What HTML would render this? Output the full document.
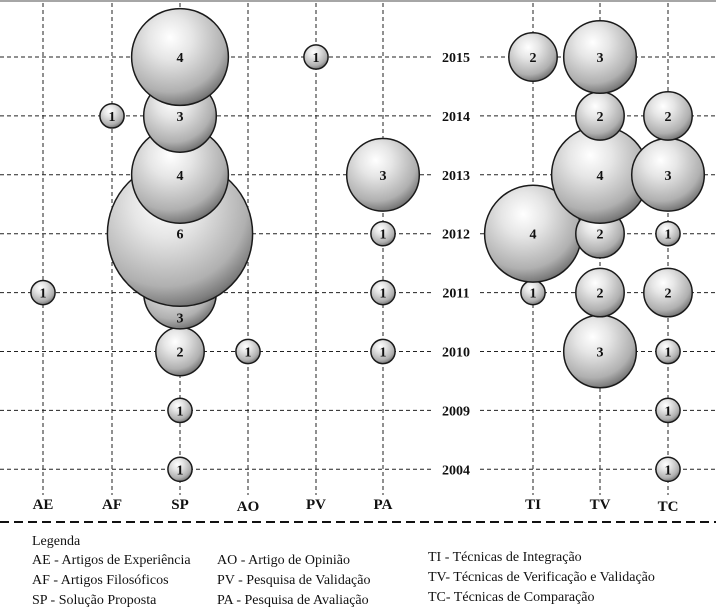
<!DOCTYPE html>
<html><head><meta charset="utf-8">
<style>
html,body{margin:0;padding:0;background:#fff;}
svg{display:block;}
.lg{font-family:"Liberation Serif",serif;font-size:14px;fill:#111;}
</style></head>
<body>
<svg id="chart" width="716" height="607" viewBox="0 0 716 607" xmlns="http://www.w3.org/2000/svg">
<defs>
<radialGradient id="ball" cx="0.4" cy="0.3" r="0.75">
<stop offset="0" stop-color="#ffffff"/>
<stop offset="0.3" stop-color="#e6e6e6"/>
<stop offset="0.75" stop-color="#b0b0b0"/>
<stop offset="0.92" stop-color="#7e7e7e"/>
<stop offset="1" stop-color="#5a5a5a"/>
</radialGradient>
</defs>
<line x1="0" y1="1" x2="716" y2="1" stroke="#888" stroke-width="1.5"/>
<g id="grid"></g>
<g id="bubbles"></g>
<line x1="0" y1="522" x2="716" y2="522" stroke="#111" stroke-width="2" stroke-dasharray="9,5"/>
<g>
<text class="lg" x="32" y="545">Legenda</text>
<text class="lg" x="32" y="564">AE - Artigos de Experiência</text>
<text class="lg" x="32" y="584">AF - Artigos Filosóficos</text>
<text class="lg" x="32" y="604">SP - Solução Proposta</text>
<text class="lg" x="217" y="564">AO - Artigo de Opinião</text>
<text class="lg" x="217" y="584">PV - Pesquisa de Validação</text>
<text class="lg" x="217" y="604">PA - Pesquisa de Avaliação</text>
<text class="lg" x="428" y="561">TI - Técnicas de Integração</text>
<text class="lg" x="428" y="581">TV- Técnicas de Verificação e Validação</text>
<text class="lg" x="428" y="601">TC- Técnicas de Comparação</text>
</g>
</svg>
<script>
const categories = ["AE","AF","SP","AO","PV","PA","TI","TV","TC"];
const years = ["2015","2014","2013","2012","2011","2010","2009","2004"];
const pointCats = ["AE","AF","SP","SP","SP","SP","SP","SP","SP","SP","AO","PV","PA","PA","PA","PA","TI","TI","TI","TV","TV","TV","TV","TV","TV","TC","TC","TC","TC","TC","TC","TC"];
const pointYears = ["2011","2014","2004","2009","2010","2011","2012","2013","2014","2015","2010","2015","2010","2011","2012","2013","2011","2012","2015","2010","2011","2012","2013","2014","2015","2004","2009","2010","2011","2012","2013","2014"];
const pointValues = [1,1,1,1,2,3,6,4,3,4,1,1,1,1,1,3,1,4,2,3,2,2,4,2,3,1,1,1,2,1,3,2];

const NS="http://www.w3.org/2000/svg";
const colX = {AE:43,AF:112,SP:180,AO:248,PV:316,PA:383,TI:533,TV:600,TC:668};
function xScale(c){return colX[c];}
function yScale(y){return 57 + years.indexOf(y)*58.9;}
function rScale(v){return v*12.1;}
const yearLabelX = 456;

const grid=document.getElementById('grid');
categories.forEach(c=>{
  const l=document.createElementNS(NS,'line');
  l.setAttribute('x1',xScale(c));l.setAttribute('x2',xScale(c));
  l.setAttribute('y1',3);l.setAttribute('y2',495);
  l.setAttribute('stroke','#222');l.setAttribute('stroke-width','1');l.setAttribute('stroke-dasharray','4,3');
  
  
  grid.appendChild(l);
  const t=document.createElementNS(NS,'text');
  t.setAttribute('x',xScale(c));t.setAttribute('y',c==='AO'||c==='TC'?511:509);
  t.setAttribute('text-anchor','middle');
  t.setAttribute('style','font-family:"Liberation Serif",serif;font-weight:bold;font-size:15px;fill:#111');
  t.textContent=c;
  
  
  grid.appendChild(t);
});
years.forEach(y=>{
  const yy=yScale(y);
  [[0,yearLabelX-24],[yearLabelX+24,716]].forEach(s=>{
    const l=document.createElementNS(NS,'line');
    l.setAttribute('x1',s[0]);l.setAttribute('x2',s[1]);
    l.setAttribute('y1',yy);l.setAttribute('y2',yy);
    l.setAttribute('stroke','#222');l.setAttribute('stroke-width','1');l.setAttribute('stroke-dasharray','4,3');
    
    
    grid.appendChild(l);
  });
  const t=document.createElementNS(NS,'text');
  t.setAttribute('x',yearLabelX);t.setAttribute('y',yy+5);
  t.setAttribute('text-anchor','middle');
  t.setAttribute('style','font-family:"Liberation Serif",serif;font-weight:bold;font-size:14px;fill:#111');
  t.textContent=y;
  
  
  grid.appendChild(t);
});

const idx=pointValues.map((v,i)=>i).sort((a,b)=>yScale(pointYears[b])-yScale(pointYears[a]));
const bub=document.getElementById('bubbles');
idx.forEach(i=>{
  const cx=xScale(pointCats[i]), cy=yScale(pointYears[i]), r=rScale(pointValues[i]);
  const g=document.createElementNS(NS,'g');
  
  
  const c=document.createElementNS(NS,'circle');
  c.setAttribute('cx',cx);c.setAttribute('cy',cy);c.setAttribute('r',r);
  c.setAttribute('fill','url(#ball)');c.setAttribute('stroke','#1a1a1a');c.setAttribute('stroke-width','1.5');
  g.appendChild(c);
  let ly=cy;
  pointValues.forEach((v2,j)=>{
    if(j===i||pointCats[j]!==pointCats[i])return;
    const cy2=yScale(pointYears[j]), r2=rScale(v2);
    if(cy2<cy && Math.abs(cy2-cy)<r2-2){ ly=Math.max(ly,(cy2+r2+cy+r)/2); }
  });
  const t=document.createElementNS(NS,'text');
  t.setAttribute('x',cx);t.setAttribute('y',ly+5);t.setAttribute('text-anchor','middle');
  t.setAttribute('style','font-family:"Liberation Serif",serif;font-weight:bold;font-size:14px;fill:#111');
  t.textContent=pointValues[i];
  g.appendChild(t);
  bub.appendChild(g);
});
</script>
</body></html>
